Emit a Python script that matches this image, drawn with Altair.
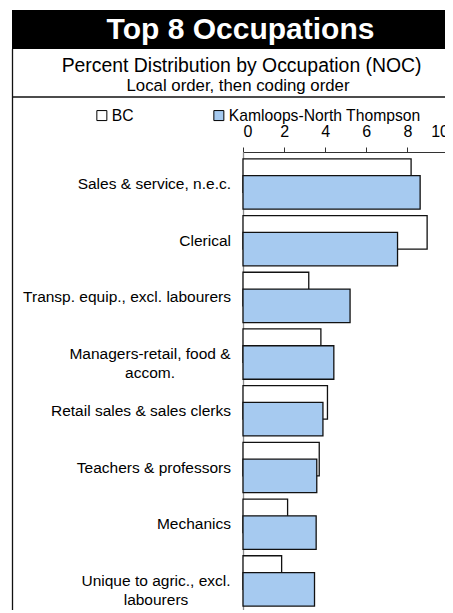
import altair as alt
import pandas as pd

# ---------------- data ----------------
occupations = [
    "Sales & service, n.e.c.",
    "Clerical",
    "Transp. equip., excl. labourers",
    "Managers-retail, food &\naccom.",
    "Retail sales & sales clerks",
    "Teachers & professors",
    "Mechanics",
    "Unique to agric., excl.\nlabourers",
]
bc_values = [8.18, 8.96, 3.20, 3.79, 4.11, 3.71, 2.17, 1.88]
kamloops_values = [8.62, 7.52, 5.21, 4.42, 3.89, 3.59, 3.56, 3.48]
series_names = ["BC", "Kamloops-North Thompson"]
x_ticks = [0, 2, 4, 6, 8, 10]
title_text = "Top 8 Occupations"
subtitle_1 = "Percent Distribution by Occupation (NOC)"
subtitle_2 = "Local order, then coding order"

rows = []
for occ, b, k in zip(occupations, bc_values, kamloops_values):
    rows.append({"occ": occ, "series": series_names[0], "value": b})
    rows.append({"occ": occ, "series": series_names[1], "value": k})
df = pd.DataFrame(rows)
labels_df = pd.DataFrame({"occ": occupations})

# ---------------- styling ----------------
FONT = "Liberation Sans"
BLUE = "#A6CAF0"
X0, Y0 = 243, 152  # page position of plot origin


def px(v):
    return v - X0


def py(v):
    return v - Y0


W, H = 202, 458
X_RANGE = 205.5

y_enc = alt.Y(
    "occ:N",
    sort=occupations,
    scale=alt.Scale(domain=occupations, paddingInner=0, paddingOuter=0.0388, align=0.83),
    axis=alt.Axis(labels=False, ticks=False, domainColor="#8c8c8c", domainWidth=1.3,
                  title=None, grid=False),
)
x_enc = alt.X(
    "value:Q",
    scale=alt.Scale(domain=[0, 10], nice=False, range=[0, X_RANGE]),
    axis=alt.Axis(orient="top", values=x_ticks, title=None, grid=False,
                  domainColor="#333333", tickColor="#333333", tickSize=5,
                  domainWidth=1, tickWidth=1,
                  labelFont=FONT, labelFontSize=16, labelColor="black", labelPadding=7.5),
)
color_enc = alt.Color(
    "series:N",
    scale=alt.Scale(domain=series_names, range=["white", BLUE]),
    legend=alt.Legend(title=None, orient="none", legendX=px(94), legendY=py(107.5),
                      direction="horizontal", symbolType="square", symbolSize=100,
                      symbolStrokeColor="black", symbolStrokeWidth=1,
                      labelFont=FONT, labelFontSize=15.7, labelColor="black",
                      labelOffset=2, columnPadding=77, labelLimit=0),
)

base = alt.Chart(df)
bc_bars = base.transform_filter(alt.datum.series == series_names[0]).mark_bar(
    height=33.5, yOffset=-8.4, stroke="#111111", strokeWidth=1.3
).encode(x=x_enc, y=y_enc, color=color_enc)
kam_bars = base.transform_filter(alt.datum.series == series_names[1]).mark_bar(
    height=33.5, yOffset=8.4, stroke="#111111", strokeWidth=1.3
).encode(x=x_enc, y=y_enc, color=color_enc)

single_line = [o for o in occupations if "\n" not in o]
lab_single = alt.Chart(labels_df).transform_filter(
    alt.FieldOneOfPredicate(field="occ", oneOf=single_line)
).mark_text(align="right", baseline="middle", font=FONT, fontSize=15.5, color="black",
            lineBreak="\n").encode(y=y_enc, x=alt.value(px(231)), text="occ:N")
lab_mgr = alt.Chart(labels_df).transform_filter(
    alt.FieldEqualPredicate(field="occ", equal=occupations[3])
).mark_text(align="center", baseline="middle", font=FONT, fontSize=15.5, color="black",
            lineBreak="\n", lineHeight=19).encode(y=y_enc, x=alt.value(px(150)), text="occ:N")
lab_agr = alt.Chart(labels_df).transform_filter(
    alt.FieldEqualPredicate(field="occ", equal=occupations[7])
).mark_text(align="center", baseline="middle", font=FONT, fontSize=15.5, color="black",
            lineBreak="\n", lineHeight=19).encode(y=y_enc, x=alt.value(px(156)), text="occ:N")

one = pd.DataFrame({"k": [0]})
title_rect = alt.Chart(one).mark_rect(color="black").encode(
    x=alt.value(px(12)), x2=alt.value(px(470)), y=alt.value(py(10)), y2=alt.value(py(49)))
title_mark = alt.Chart(pd.DataFrame({"t": [title_text]})).mark_text(
    font=FONT, fontSize=30, fontWeight="bold", color="white", align="center",
    baseline="alphabetic").encode(x=alt.value(px(240.5)), y=alt.value(py(38.7)), text="t:N")
sub1_mark = alt.Chart(pd.DataFrame({"t": [subtitle_1]})).mark_text(
    font=FONT, fontSize=19.4, color="black", align="center",
    baseline="alphabetic").encode(x=alt.value(px(241.6)), y=alt.value(py(72)), text="t:N")
sub2_mark = alt.Chart(pd.DataFrame({"t": [subtitle_2]})).mark_text(
    font=FONT, fontSize=16.8, color="black", align="center",
    baseline="alphabetic").encode(x=alt.value(px(238)), y=alt.value(py(91)), text="t:N")

rule_style = dict(color="#111111", strokeWidth=1.3)
sub_left = alt.Chart(one).mark_rule(**rule_style).encode(
    x=alt.value(px(12.5)), y=alt.value(py(49)), y2=alt.value(py(97)))
sub_bottom = alt.Chart(one).mark_rule(**rule_style).encode(
    x=alt.value(px(12)), x2=alt.value(px(470)), y=alt.value(py(97)))
low_left = alt.Chart(one).mark_rule(**rule_style).encode(
    x=alt.value(px(12.5)), y=alt.value(py(97)), y2=alt.value(py(650)))

chart = alt.layer(
    title_rect, title_mark, sub1_mark, sub2_mark, sub_left, sub_bottom, low_left,
    bc_bars, kam_bars, lab_single, lab_mgr, lab_agr,
).properties(
    width=W, height=H,
    autosize=alt.AutoSizeParams(type="none"),
    padding={"left": 235, "top": 144, "right": 0, "bottom": 0},
    background="white",
).configure_view(stroke="transparent")

chart.save("out.html", embed_options={"renderer": "svg", "actions": False})
